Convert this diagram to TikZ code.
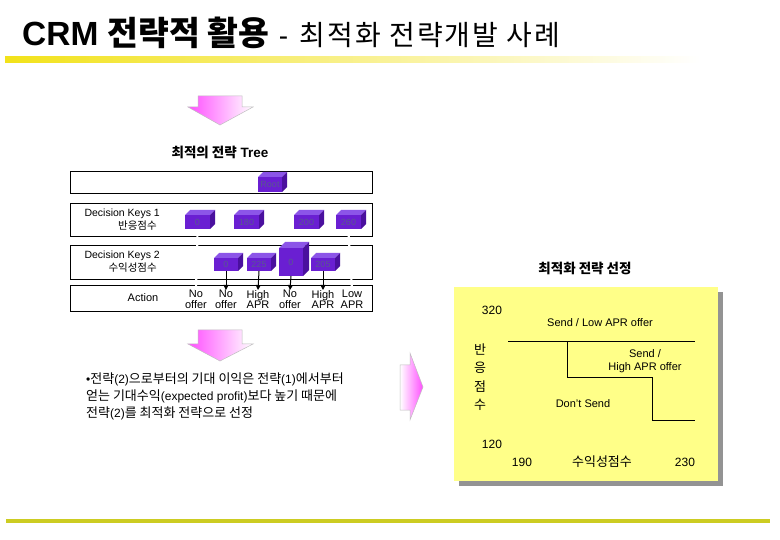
\documentclass[tikz,border=0pt]{standalone}
\usepackage{fontspec}
\setmainfont{Liberation Sans}
\newfontfamily\kr{Noto Sans CJK KR}
\newfontfamily\krt{Noto Sans CJK KR}[LetterSpace=7]
\usetikzlibrary{arrows.meta,calc}
\definecolor{cubeF}{HTML}{6A1FD2}
\definecolor{cubeT}{HTML}{8C55E8}
\definecolor{cubeS}{HTML}{4A109E}
\definecolor{cubeTxt}{HTML}{5A5890}
\definecolor{pinkA}{HTML}{FF4EFF}
\definecolor{noteY}{HTML}{FFFF88}
\definecolor{barY}{HTML}{F2E21A}
\definecolor{lineY}{HTML}{CCCC22}
\tikzset{
  cubefront/.style={fill=cubeF, inner sep=0pt, outer sep=0pt, text=cubeTxt, font=\fontsize{9}{9}\selectfont},
  rowbox/.style={draw=black, line width=0.8pt, fill=white},
  rowlbl/.style={inner sep=0pt, font=\fontsize{10.5}{11}\selectfont, anchor=east},
  actlbl/.style={inner sep=0pt, anchor=north, align=center, font=\fontsize{11}{10.5}\selectfont},
  darr/.style={line width=1pt, -{Triangle[length=5pt,width=5pt]}},
  gaplink/.style={white, line width=2.2pt},
  bigarrow/.style={draw=gray!50, line width=0.5pt},
  notetxt/.style={inner sep=0pt, font=\fontsize{11}{13}\selectfont},
  notenum/.style={inner sep=0pt, font=\fontsize{12}{13}\selectfont},
  notekr/.style={inner sep=0pt, font=\kr\fontsize{13}{18.4}\selectfont, align=center},
  stepline/.style={line width=1pt}
}
\newcommand\cubebox[7][5]{%
  \node[cubefront, minimum width=#5pt, minimum height=#6pt] (#2) at (#3,#4) {#7};
  \fill[cubeT] (#2.north west) -- ++(#1pt,#1pt) -- ++(#5pt,0pt) -- (#2.north east) -- cycle;
  \fill[cubeS] (#2.north east) -- ++(#1pt,#1pt) -- ++(0pt,-#6pt) -- (#2.south east) -- cycle;
}
\newcommand\K[1]{{\kr\fontsize{13}{17}\selectfont #1}}
\begin{document}
\begin{tikzpicture}[x=1pt,y=-1pt]
\useasboundingbox (0,0) rectangle (780,540);
\fill[white] (0,0) rectangle (780,540);

% title
\node[anchor=base west, inner sep=0pt] (title) at (22,46)
  {\fontsize{33.5}{36}\selectfont\bfseries CRM {\kr 전략적 활용} \fontsize{28}{30}\selectfont\mdseries -\hspace{4pt} {\krt 최적화 전략개발 사례}};
\shade[left color=barY, right color=white] (5,57) rectangle (700,63);
\fill[lineY] (6,519) rectangle (770,523);

% arrow 1
\shade[bigarrow, left color=pinkA, right color=white]
  (198,96) -- (242,96) -- (242,107) -- (253,107) -- (220,125) -- (188,107) -- (198,107) -- cycle;
\node[inner sep=0pt, font=\bfseries\fontsize{13.5}{15}\selectfont] (treeT) at (220,152) {{\kr 최적의 전략} Tree};

% rows
\draw[rowbox] (70,171) rectangle (372,193);
\draw[rowbox] (70,203) rectangle (372,236);
\draw[rowbox] (70,245) rectangle (372,279);
\draw[rowbox] (70,285) rectangle (372,311);

\node[rowlbl] (dk1) at (160,214) {Decision Keys 1};
\node[rowlbl] (dk1k) at (157,226) {\kr 반응점수};
\node[rowlbl] (dk2) at (160,256) {Decision Keys 2};
\node[rowlbl] (dk2k) at (157,268) {\kr 수익성점수};
\node[inner sep=0pt, font=\fontsize{11}{12}\selectfont] (actT) at (143,298) {Action};

% action labels
\node[actlbl] (a1) at (196,290) {No\\offer};
\node[actlbl] (a2) at (226,290) {No\\offer};
\node[actlbl] (a3) at (258,290) {High\\APR};
\node[actlbl] (a4) at (290,290) {No\\offer};
\node[actlbl] (a5) at (323,290) {High\\APR};
\node[actlbl] (a6) at (352,290) {Low\\APR};

% cubes
\cubebox{root}{270}{184.5}{24}{15}{Root}
\cubebox{k10}{197.5}{222}{25}{14}{0}
\cubebox{k11}{246.5}{222}{25}{14}{180}
\cubebox{k12}{306.5}{222}{25}{14}{200}
\cubebox{k13}{348.5}{222}{25}{14}{260}
\cubebox{k20}{226}{264.5}{24}{13}{0}
\cubebox{k21}{259}{264.5}{24}{13}{225}
\cubebox[6]{k22}{291}{262}{24}{28}{0}
\cubebox{k23}{323}{264.5}{24}{13}{205}

% hidden (white) links
\draw[gaplink] ($(k10.south)+(0,-3pt)$) -- (a1.north);
\draw[gaplink] ($(k13.south)+(0,-3pt)$) -- (a6.north);

% arrows
\draw[darr] (k20.south) -- (a2.north);
\draw[darr] (k21.south) -- (a3.north);
\draw[darr] (k22.south) -- (a4.north);
\draw[darr] (k23.south) -- (a5.north);

% arrow 2
\shade[bigarrow, left color=pinkA, right color=white]
  (198,330) -- (242,330) -- (242,344) -- (253,344) -- (220,361) -- (188,344) -- (198,344) -- cycle;

\node[anchor=north west, inner sep=0pt, align=left, font=\fontsize{12}{17}\selectfont] (bullet) at (86,373)
  {•\K{전략}(2)\K{으로부터의 기대 이익은 전략}(1)\K{에서부터}\\
   \K{얻는 기대수익}(expected profit)\K{보다 높기 때문에}\\
   \K{전략}(2)\K{를 최적화 전략으로 선정}};

% right arrow
\shade[bigarrow, left color=white, right color=pinkA]
  (400,365) -- (410,365) -- (410,353) -- (423,387) -- (410,420) -- (410,410) -- (400,410) -- cycle;

% selection
\node[inner sep=0pt, font=\kr\bfseries\fontsize{13.5}{15}\selectfont] (selT) at (585,268) {최적화 전략 선정};
\fill[gray!85] (459,292) rectangle (723,486);
\fill[noteY] (454,287) rectangle (718,481);

\draw[stepline] (508,342) -- (695,342);
\draw[stepline] (567,342) -- (567,378) -- (652,378) -- (652,420) -- (695,420);

\node[notenum] (v320) at (492,310) {320};
\node[notetxt] (slow) at (600,323) {Send / Low APR offer};
\node[notetxt, align=center] (shigh) at (645,361) {Send /\\High APR offer};
\node[notetxt] (dont) at (583,404) {Don't Send};
\node[notekr] (ylab) at (480,377) {반\\응\\점\\수};
\node[notenum] (v120) at (492,444) {120};
\node[notenum] (v190) at (522,462) {190};
\node[notekr] (xlab) at (602,462) {수익성점수};
\node[notenum] (v230) at (685,462) {230};
\end{tikzpicture}
\end{document}
